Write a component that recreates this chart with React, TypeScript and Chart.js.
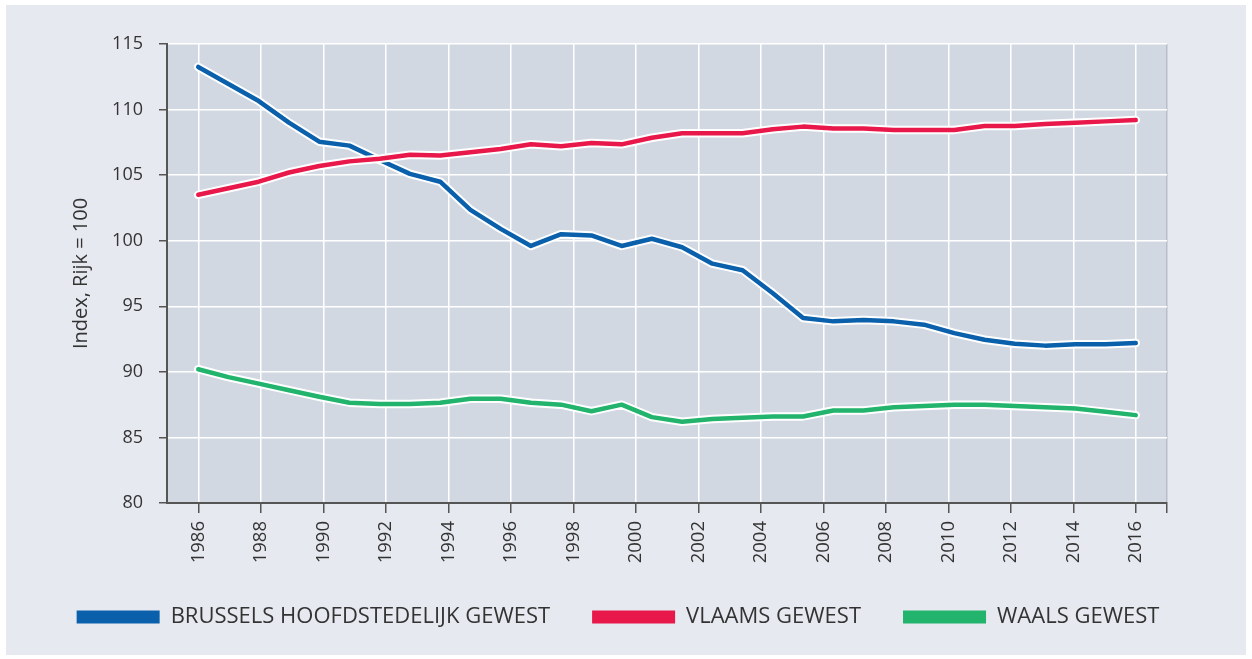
import React, { useEffect, useRef } from 'react';
import { Chart, registerables } from 'chart.js';

Chart.register(...registerables);

// Tick labels of the year axis
const tickYears = [1986, 1988, 1990, 1992, 1994, 1996, 1998, 2000, 2002, 2004, 2006, 2008, 2010, 2012, 2014, 2016];

// Series values (32 observations spread over 1986–2016)
const brussels = [113.25, 111.95, 110.65, 109.0, 107.55, 107.25, 106.15, 105.1, 104.5, 102.35, 100.9, 99.6, 100.5, 100.4, 99.6, 100.15, 99.5, 98.25, 97.75, 96.0, 94.1, 93.85, 93.95, 93.85, 93.6, 92.95, 92.45, 92.15, 92.0, 92.1, 92.1, 92.2];
const vlaams = [103.5, 104.0, 104.5, 105.2, 105.7, 106.05, 106.25, 106.55, 106.5, 106.75, 107.0, 107.35, 107.2, 107.45, 107.35, 107.85, 108.2, 108.2, 108.2, 108.5, 108.7, 108.55, 108.55, 108.45, 108.45, 108.45, 108.75, 108.75, 108.9, 109.0, 109.1, 109.2];
const waals = [90.2, 89.6, 89.1, 88.6, 88.1, 87.65, 87.55, 87.55, 87.65, 87.95, 87.95, 87.65, 87.5, 87.0, 87.5, 86.55, 86.2, 86.4, 86.5, 86.6, 86.6, 87.05, 87.05, 87.3, 87.4, 87.5, 87.5, 87.4, 87.3, 87.2, 86.95, 86.7];

const seriesNames = ['BRUSSELS HOOFDSTEDELIJK GEWEST', 'VLAAMS GEWEST', 'WAALS GEWEST'];
const seriesValues = [brussels, vlaams, waals];
const seriesColors = ['#0a60ab', '#e8184a', '#22b36c'];

const yTitle = 'Index, Rijk = 100';

const plotBg = {
  id: 'plotBg',
  beforeDraw(chart: any) {
    const { ctx, chartArea } = chart;
    ctx.save();
    ctx.fillStyle = '#d2d8e2';
    ctx.fillRect(chartArea.left, chartArea.top, chartArea.right - chartArea.left, chartArea.bottom - chartArea.top);
    ctx.restore();
  },
};

export default function App() {
  const ref = useRef<HTMLCanvasElement>(null);

  useEffect(() => {
    if (!ref.current) return;
    Chart.defaults.font.family = "'Open Sans', sans-serif";
    Chart.defaults.color = '#333';

    const toPoints = (arr: number[]) => arr.map((v, i) => ({ x: i, y: v }));
    const n = 3;
    const colored = seriesValues.map((vals, i) => ({
      label: seriesNames[i],
      data: toPoints(vals),
      xAxisID: 'xi',
      yAxisID: 'y',
      borderColor: seriesColors[i],
      backgroundColor: seriesColors[i],
      borderWidth: 4.5,
      pointRadius: 0,
      tension: 0,
      borderJoinStyle: 'round',
      borderCapStyle: 'round',
      order: 2 * (n - i) - 1,
    }));
    const outlines = seriesValues.map((vals, i) => ({
      label: seriesNames[i] + ' outline',
      data: toPoints(vals),
      xAxisID: 'xi',
      yAxisID: 'y',
      borderColor: '#ffffff',
      backgroundColor: '#ffffff',
      borderWidth: 8.5,
      pointRadius: 0,
      tension: 0,
      borderJoinStyle: 'round',
      borderCapStyle: 'round',
      order: 2 * (n - i),
    }));

    const chart = new Chart(ref.current, {
      type: 'line',
      data: { datasets: [...colored, ...outlines] as any },
      plugins: [plotBg],
      options: {
        animation: false,
        responsive: true,
        maintainAspectRatio: false,
        layout: { padding: { left: 0, top: 39, right: 16, bottom: 17 } },
        plugins: {
          tooltip: { enabled: false },
          legend: {
            position: 'bottom',
            labels: {
              boxWidth: 83,
              boxHeight: 13,
              padding: 42,
              color: '#333',
              font: { size: 22 },
              filter: (item: any) => item.datasetIndex < n,
              generateLabels: () =>
                seriesNames.map((name, i) => ({
                  text: name,
                  fillStyle: seriesColors[i],
                  strokeStyle: seriesColors[i],
                  lineWidth: 0,
                  hidden: false,
                  datasetIndex: i,
                  fontColor: '#333',
                })),
            },
          },
        },
        scales: {
          xi: {
            type: 'linear',
            display: false,
            min: -1.033,
            max: 32.033,
          },
          x: {
            type: 'linear',
            position: 'bottom',
            min: 1985,
            max: 2017,
            afterBuildTicks: (scale: any) => {
              scale.ticks = [...tickYears.map((v) => ({ value: v })), { value: 2017 }];
            },
            afterFit: (scale: any) => {
              scale.height = 61;
            },
            ticks: {
              autoSkip: false,
              maxRotation: 90,
              minRotation: 90,
              padding: 8,
              color: '#333',
              font: { size: 18.5 },
              callback: (value: any) => (tickYears.includes(value) ? String(value) : ''),
            },
            grid: {
              color: (ctx: any) => (ctx.tick && ctx.tick.value === 2017 ? '#b9bec8' : '#ffffff'),
              lineWidth: 1.5,
              tickColor: '#555',
              tickLength: 10,
              tickWidth: 1.5,
            },
            border: { color: '#555', width: 2 },
          },
          y: {
            type: 'linear',
            position: 'left',
            min: 80,
            max: 115,
            afterFit: (scale: any) => {
              scale.width = 161;
            },
            ticks: {
              stepSize: 5,
              padding: 16,
              color: '#333',
              font: { size: 18 },
            },
            grid: {
              color: '#ffffff',
              lineWidth: 1.5,
              tickColor: '#555',
              tickLength: 8,
              tickWidth: 1.5,
            },
            border: { color: '#555', width: 2 },
            title: {
              display: true,
              text: yTitle,
              color: '#333',
              font: { size: 20 },
              padding: { top: 63, bottom: 0, left: 0, right: 0 },
            },
          },
          yr: {
            type: 'linear',
            position: 'right',
            display: true,
            afterFit: (scale: any) => {
              scale.width = 63;
            },
            ticks: { display: false },
            grid: { display: false, drawTicks: false },
            border: { display: false },
          },
        },
      } as any,
    });
    return () => chart.destroy();
  }, []);

  return (
    <div
      style={{
        position: 'absolute',
        left: 6,
        top: 5,
        width: 1240,
        height: 650,
        background: '#e6e9f0',
      }}
    >
      <canvas ref={ref} style={{ display: 'block' }} />
    </div>
  );
}
